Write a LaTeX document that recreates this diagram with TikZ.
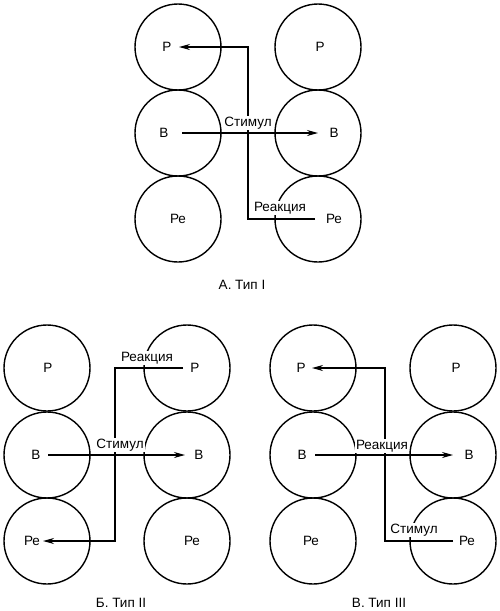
\documentclass[tikz,border=0pt]{standalone}
\usepackage{fontspec}
\setmainfont{Liberation Sans}
\usetikzlibrary{arrows.meta}

\begin{document}
\begin{tikzpicture}[
            x=1pt,
            y=-1pt,
            >={Stealth[length=11pt, width=6pt]},
            font=\fontsize{13.5}{15}\selectfont,
            cell/.style={circle, draw, line width=1.4pt, minimum size=86pt, inner sep=0pt},
            lbl/.style={inner sep=1pt},
            tag/.style={fill=white, inner sep=1pt},
            wire/.style={line width=1.3pt}
        ]

            \useasboundingbox (0,0) rectangle (500,611);

            % --- A. Type I ---
            \node[cell] (aL1) at (178,47) {};
            \node[cell] (aL2) at (178,133) {};
            \node[cell] (aL3) at (178,219) {};
            \node[cell] (aR1) at (318,47) {};
            \node[cell] (aR2) at (318,133) {};
            \node[cell] (aR3) at (318,219) {};

            \node[lbl] (aP1) at (167,47) {Р};
            \node[lbl] (aB1) at (164,133) {В};
            \node[lbl] (aRe1) at (178,219) {Ре};
            \node[lbl] (aP2) at (320,47) {Р};
            \node[lbl] (aB2) at (334,133) {В};
            \node[lbl] (aRe2) at (334,219) {Ре};

            \coordinate (aS0) at (182,133);
            \coordinate (aS1) at (318,133);
            \coordinate (aR0) at (315,219);
            \coordinate (aRt) at (248,219);
            \coordinate (aR1) at (179,47);

            \draw[wire, ->] (aS0) -- (aS1);
            \draw[wire, ->] (aR0) -- (aRt) |- (aR1);
            \node[tag] (aStim) at (248,123) {Стимул};
            \node[tag] (aReac) at (280,208) {Реакция};

            \node (aCap) at (242,285) {А. Тип I};

            % --- B. Type II ---
            \node[cell] (bL1) at (47,368) {};
            \node[cell] (bL2) at (47,455) {};
            \node[cell] (bL3) at (47,541) {};
            \node[cell] (bR1) at (187,368) {};
            \node[cell] (bR2) at (187,455) {};
            \node[cell] (bR3) at (187,541) {};

            \node[lbl] (bP1) at (48,368) {Р};
            \node[lbl] (bB1) at (36,455) {В};
            \node[lbl] (bRe1) at (32,541) {Ре};
            \node[lbl] (bP2) at (195,368) {Р};
            \node[lbl] (bB2) at (199,455) {В};
            \node[lbl] (bRe2) at (192,541) {Ре};

            \coordinate (bS0) at (48,455);
            \coordinate (bS1) at (185,455);
            \coordinate (bR0) at (183,368);
            \coordinate (bRt) at (115,368);
            \coordinate (bR1) at (43,541);

            \draw[wire, ->] (bS0) -- (bS1);
            \draw[wire, ->] (bR0) -- (bRt) |- (bR1);
            \node[tag] (bStim) at (120,445) {Стимул};
            \node[tag] (bReac) at (147,358) {Реакция};

            \node (bCap) at (121,603) {Б. Тип II};

            % --- C. Type III ---
            \node[cell] (cL1) at (313,368) {};
            \node[cell] (cL2) at (313,455) {};
            \node[cell] (cL3) at (313,541) {};
            \node[cell] (cR1) at (453,368) {};
            \node[cell] (cR2) at (453,455) {};
            \node[cell] (cR3) at (453,541) {};

            \node[lbl] (cP1) at (301,368) {Р};
            \node[lbl] (cB1) at (302,455) {В};
            \node[lbl] (cRe1) at (311,541) {Ре};
            \node[lbl] (cP2) at (456,368) {Р};
            \node[lbl] (cB2) at (469,455) {В};
            \node[lbl] (cRe2) at (467,541) {Ре};

            \coordinate (cS0) at (453,541);
            \coordinate (cSt) at (385,541);
            \coordinate (cS1) at (312,368);
            \coordinate (cR0) at (315,455);
            \coordinate (cR1) at (453,455);

            \draw[wire, ->] (cR0) -- (cR1);
            \draw[wire, ->] (cS0) -- (cSt) |- (cS1);
            \node[tag] (cReac) at (382,446) {Реакция};
            \node[tag] (cStim) at (414,530) {Стимул};

            \node (cCap) at (379,603) {В. Тип III};

        \end{tikzpicture}
\end{document}
